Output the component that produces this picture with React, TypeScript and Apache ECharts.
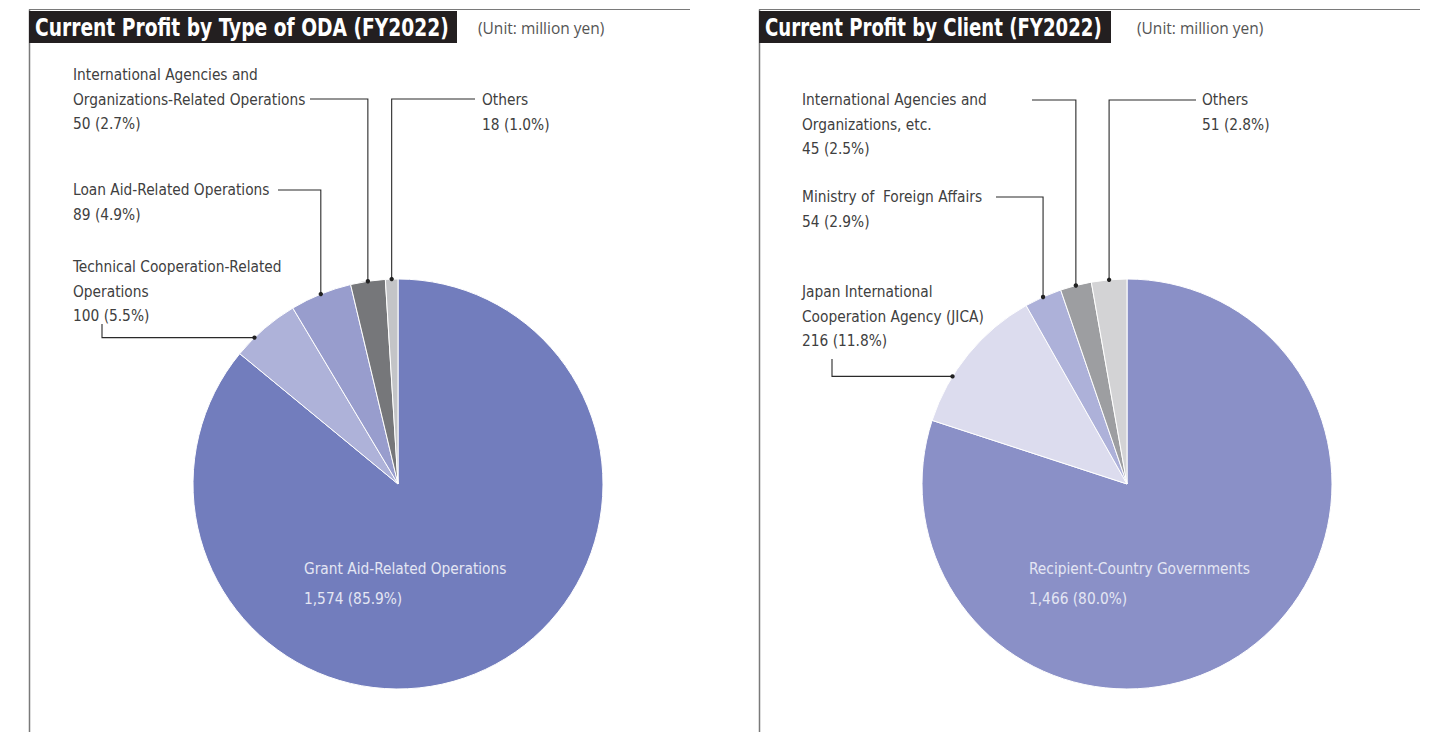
import React, { useEffect, useRef } from "react";
import * as echarts from "echarts";

// ---------- data ----------
const odaCategories = [
  "Grant Aid-Related Operations",
  "Technical Cooperation-Related\nOperations",
  "Loan Aid-Related Operations",
  "International Agencies and\nOrganizations-Related Operations",
  "Others",
];
const odaValues = [1574, 100, 89, 50, 18];
const odaPercents = [85.9, 5.5, 4.9, 2.7, 1.0];

const clientCategories = [
  "Recipient-Country Governments",
  "Japan International\nCooperation Agency (JICA)",
  "Ministry of  Foreign Affairs",
  "International Agencies and\nOrganizations, etc.",
  "Others",
];
const clientValues = [1466, 216, 54, 45, 51];
const clientPercents = [80.0, 11.8, 2.9, 2.5, 2.8];

const titles = ["Current Profit by Type of ODA (FY2022)", "Current Profit by Client (FY2022)"];
const unitText = "(Unit: million yen)";

// ---------- layout / style ----------
const FONT = "'DejaVu Sans Condensed', 'Liberation Sans Narrow', sans-serif";
const TITLE_FONT = `bold 25px ${FONT}`;
const R = 205;
const TEXT = "#404040";
const LABEL_SIZE = 15.3;

type LabelCfg = {
  x: number;
  y: number;
  inside?: boolean;
  mode?: "hv" | "vh";
  sx?: number;
  sy?: number;
  frac?: number;
};

const panels = [
  {
    frameX: 29,
    frameRight: 690,
    titleW: 428,
    titleTextW: 414,
    unitX: 478,
    center: [398, 484],
    colors: ["#727dbd", "#aeb2d9", "#989dcd", "#76777a", "#c3c4c7"],
    categories: odaCategories,
    values: odaValues,
    percents: odaPercents,
    labels: [
      { x: 304, y: 554, inside: true },
      { x: 73, y: 255, mode: "vh", sx: 102, sy: 324, frac: 0.31 },
      { x: 73, y: 178, mode: "hv", sx: 278, sy: 190, frac: 0.5 },
      { x: 73, y: 63, mode: "hv", sx: 310, sy: 99, frac: 0.5 },
      { x: 482, y: 88, mode: "hv", sx: 475, sy: 99, frac: 0.5 },
    ] as LabelCfg[],
  },
  {
    frameX: 759,
    frameRight: 1420,
    titleW: 352,
    titleTextW: 337,
    unitX: 1137,
    center: [1127, 484],
    colors: ["#8a90c7", "#dcdcee", "#adb1d9", "#9d9ea1", "#d3d3d5"],
    categories: clientCategories,
    values: clientValues,
    percents: clientPercents,
    labels: [
      { x: 1029, y: 554, inside: true },
      { x: 802, y: 280, mode: "vh", sx: 832, sy: 359, frac: 0.32 },
      { x: 802, y: 185, mode: "hv", sx: 996, sy: 197, frac: 0.5 },
      { x: 802, y: 88, mode: "hv", sx: 1032, sy: 100, frac: 0.5 },
      { x: 1202, y: 88, mode: "hv", sx: 1196, sy: 100, frac: 0.5 },
    ] as LabelCfg[],
  },
];

function anchorOf(values: number[], idx: number, frac: number, center: number[]) {
  const sum = values.reduce((a, b) => a + b, 0);
  let cum = 0;
  for (let i = 0; i < idx; i++) cum += values[i];
  const t = ((cum + values[idx] * frac) / sum) * Math.PI * 2;
  return [center[0] + R * Math.sin(t), center[1] - R * Math.cos(t)];
}

function measure(text: string, font: string) {
  const c = document.createElement("canvas").getContext("2d");
  if (!c) return text.length * 11;
  c.font = font;
  return c.measureText(text).width;
}

const fmt = (v: number) => v.toLocaleString("en-US");

export default function App() {
  const ref = useRef<HTMLDivElement>(null);
  useEffect(() => {
    if (!ref.current) return;
    const chart = echarts.init(ref.current, undefined, { renderer: "svg" });

    const graphics: any[] = [];
    panels.forEach((p, si) => {
      const w = measure(titles[si], TITLE_FONT);
      const sx = Math.min(1, p.titleTextW / w);
      graphics.push(
        {
          type: "line",
          shape: { x1: p.frameX, y1: 9.5, x2: p.frameRight, y2: 9.5 },
          style: { stroke: "#7a7a7a", lineWidth: 1.2 },
          silent: true,
        },
        {
          type: "line",
          shape: { x1: p.frameX + 0.5, y1: 9.5, x2: p.frameX + 0.5, y2: 740 },
          style: { stroke: "#7a7a7a", lineWidth: 1.5 },
          silent: true,
        },
        {
          type: "rect",
          shape: { x: p.frameX, y: 11, width: p.titleW, height: 32 },
          style: { fill: "#231f20" },
          silent: true,
        },
        {
          type: "text",
          x: p.frameX + 6,
          y: 27,
          scaleX: sx,
          style: {
            text: titles[si],
            fill: "#ffffff",
            font: TITLE_FONT,
            textVerticalAlign: "middle",
          },
          silent: true,
        },
        {
          type: "text",
          x: p.unitX,
          y: 28,
          style: {
            text: unitText,
            fill: "#555555",
            font: `15.5px 'Open Sans', ${FONT}`,
            textVerticalAlign: "middle",
          },
          silent: true,
        }
      );
      p.labels.forEach((l, i) => {
        if (l.inside) return;
        const a = anchorOf(p.values, i, l.frac ?? 0.5, p.center);
        graphics.push({
          type: "circle",
          shape: { cx: a[0], cy: a[1], r: 2.2 },
          style: { fill: "#222" },
          z: 10,
          silent: true,
        });
      });
    });

    const series = panels.map((p) => ({
      type: "pie",
      center: p.center,
      radius: R,
      startAngle: 90,
      clockwise: true,
      avoidLabelOverlap: false,
      silent: true,
      emphasis: { disabled: true, scale: false },
      itemStyle: { borderColor: "#ffffff", borderWidth: 1 },
      label: {
        show: true,
        position: "outside",
        color: TEXT,
        fontFamily: FONT,
        fontSize: LABEL_SIZE,
        lineHeight: 24.5,
        align: "left",
        formatter: (prm: any) =>
          `${prm.name}\n${fmt(prm.value)} (${p.percents[prm.dataIndex].toFixed(1)}%)`,
      },
      labelLine: {
        show: true,
        smooth: false,
        lineStyle: { color: "#2a2a2a", width: 1.1 },
      },
      labelLayout: (prm: any) => {
        const l = p.labels[prm.dataIndex];
        const out: any = { x: l.x, y: l.y, align: "left", verticalAlign: "top" };
        if (!l.inside) {
          const a = anchorOf(p.values, prm.dataIndex, l.frac ?? 0.5, p.center);
          out.labelLinePoints =
            l.mode === "hv"
              ? [[l.sx, l.sy], [a[0], l.sy], [a[0], a[1]]]
              : [[l.sx, l.sy], [l.sx, a[1]], [a[0], a[1]]];
        }
        return out;
      },
      data: p.categories.map((name, i) => {
        const item: any = {
          name,
          value: p.values[i],
          itemStyle: { color: p.colors[i] },
        };
        if (p.labels[i].inside) {
          item.label = { color: "#e4e6f3", lineHeight: 30, fontSize: LABEL_SIZE };
          item.labelLine = { show: false };
        }
        return item;
      }),
    }));

    chart.setOption({
      animation: false,
      backgroundColor: "#ffffff",
      series,
      graphic: graphics,
    } as any);

    return () => chart.dispose();
  }, []);

  return (
    <div
      ref={ref}
      style={{ position: "fixed", left: 0, top: 0, width: 1439, height: 732 }}
    />
  );
}
